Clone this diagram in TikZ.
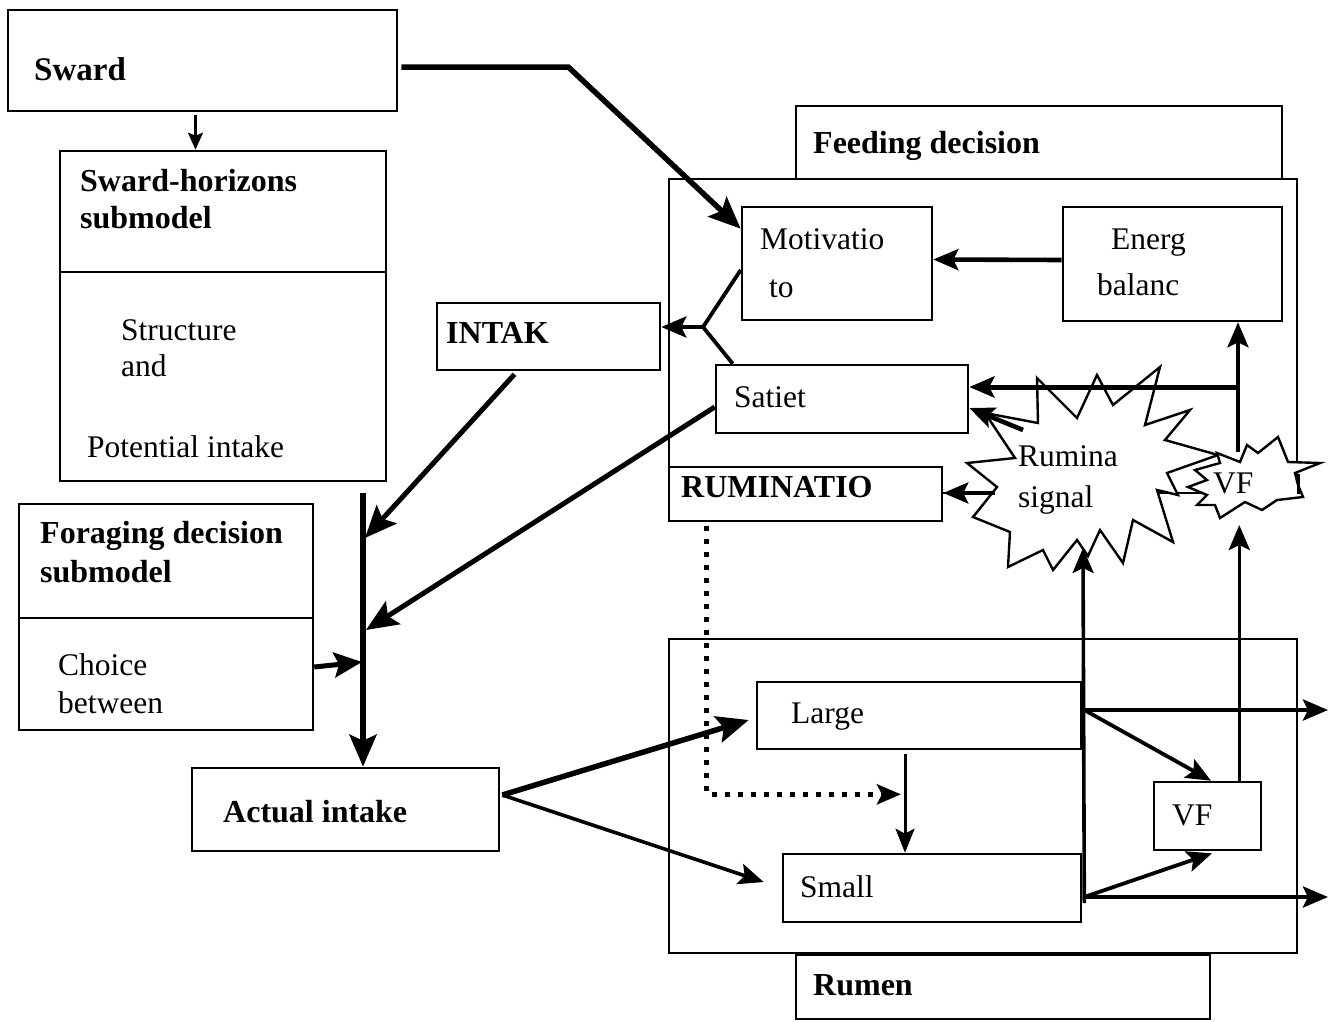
\documentclass[tikz,border=0pt]{standalone}
\usepackage{fontspec}
\setmainfont{Liberation Serif}
\usetikzlibrary{arrows.meta,fit,calc}
\begin{document}
\begin{tikzpicture}[x=1pt,y=-1pt,
 box/.style={draw,line width=2.6pt,fill=white,inner sep=0pt},
 txt/.style={inner sep=0pt,anchor=base west,font=\fontsize{31.5pt}{36pt}\selectfont},
 btxt/.style={inner sep=0pt,anchor=base west,font=\fontsize{32pt}{36pt}\selectfont\bfseries},
 bigarr/.style={line width=5.5pt,-{Stealth[length=32pt,width=27pt,inset=6pt]}},
 medarr/.style={line width=4pt,-{Stealth[length=25pt,width=21pt,inset=5pt]}},
 smallarr/.style={line width=2.4pt,-{Stealth[length=17pt,width=15pt,inset=3pt]}},
 plainline/.style={line width=3.8pt},
 dotline/.style={line width=5.5pt,dash pattern=on 5pt off 8pt},
 starshape/.style={draw,line width=2.4pt,fill=white,line join=miter}]
\useasboundingbox (0,0) rectangle (1334,1021);

% outer frames
\node[box,fit={(669,179) (1297,493)}] (feed) {};
\node[box,fit={(796,106) (1282,179)}] (feedlbl) {};
\node[box,fit={(669,639) (1297,953)}] (rumen) {};
\node[box,fit={(796,955) (1210,1019)}] (rumenlbl) {};

% boxes
\node[box,fit={(8,10) (397,111)}] (sward) {};
\node[box,fit={(60,151) (386,481)}] (horiz) {};
\draw[line width=2.2pt] ($(horiz.north west)+(0,122)$) -- ($(horiz.north east)+(0,122)$);
\node[box,fit={(742,207) (932,320)}] (mot) {};
\node[box,fit={(1063,207) (1282,321)}] (energ) {};
\node[box,fit={(437,303) (660,370)}] (intak) {};
\node[box,fit={(716,365) (968,433)}] (sat) {};
\node[box,fit={(669,467) (942,521)}] (rum) {};
\node[box,fit={(19,504) (313,730)}] (forag) {};
\draw[line width=2.2pt] ($(forag.north west)+(0,115)$) -- ($(forag.north east)+(0,115)$);
\node[box,fit={(192,768) (499,851)}] (actual) {};
\node[box,fit={(757,682) (1081,749)}] (large) {};
\node[box,fit={(783,854) (1081,922)}] (small) {};
\node[box,fit={(1154,782) (1261,850)}] (vf) {};

% stars
\draw[starshape] (1037,378) -- (1077,418) -- (1097,375) -- (1113,405) -- (1160,367)
 -- (1145,425) -- (1190,410) -- (1165,440) -- (1218,455) -- (1167,473) -- (1178,495)
 -- (1157,490) -- (1173,542) -- (1133,520) -- (1123,563) -- (1100,530) -- (1088,556)
 -- (1077,540) -- (1053,570) -- (1043,550) -- (1008,567) -- (1010,532) -- (973,517)
 -- (997,487) -- (967,463) -- (1015,458) -- (985,413) -- (1038,423) -- cycle;
\draw[starshape] (1217,453) -- (1240,462) -- (1247,445) -- (1258,453) -- (1278,437)
 -- (1288,462) -- (1320,463) -- (1295,473) -- (1298,485) -- (1303,497) -- (1277,500)
 -- (1262,510) -- (1245,502) -- (1220,518) -- (1215,505) -- (1197,505) -- (1207,495)
 -- (1188,487) -- (1207,480) -- (1195,470) -- (1220,463) -- cycle;
\draw[line width=2.6pt] ($(feed.south east)+(0,-20)$) -- (feed.south east);

% texts
\node[btxt,font=\fontsize{33pt}{36pt}\selectfont\bfseries] (t-sward) at (34,80) {Sward};
\node[btxt] (t-hor1) at (80,191) {Sward-horizons};
\node[btxt] (t-hor2) at (80,228) {submodel};
\node[txt] (t-hor3) at (121,340) {Structure};
\node[txt] (t-hor4) at (121,376) {and};
\node[txt] (t-hor5) at (87,457) {Potential intake};
\node[btxt] (t-feed) at (813,153) {Feeding decision};
\node[txt] (t-mot1) at (760,249) {Motivatio};
\node[txt] (t-mot2) at (769,297) {to};
\node[txt] (t-en1) at (1111,249) {Energ};
\node[txt] (t-en2) at (1097,295) {balanc};
\node[btxt] (t-intak) at (446,343) {INTAK};
\node[txt] (t-sat) at (734,407) {Satiet};
\node[btxt] (t-rum) at (681,497) {RUMINATIO};
\node[txt] (t-rs1) at (1018,466) {Rumina};
\node[txt] (t-rs2) at (1018,507) {signal};
\node[txt] (t-vfs) at (1213,493) {VF};
\node[btxt] (t-for1) at (40,543) {Foraging decision};
\node[btxt] (t-for2) at (40,582) {submodel};
\node[txt] (t-for3) at (58,675) {Choice};
\node[txt] (t-for4) at (58,713) {between};
\node[btxt] (t-act) at (223,822) {Actual intake};
\node[txt] (t-large) at (791,723) {Large};
\node[txt] (t-small) at (800,897) {Small};
\node[txt] (t-vf) at (1172,825) {VF};
\node[btxt] (t-rumen) at (813,995) {Rumen};

% coordinates for junctions / star attachment points
\coordinate (fork) at (703,327);
\coordinate (trunk) at (363,493);
\coordinate (rsbot) at (1083,548);
\coordinate (rssat) at (1023,430);
\coordinate (rsrum) at (995,493);
\coordinate (vfsbot) at (1238,525);
\coordinate (vfstop) at (1238,452);
\coordinate (jn) at (1238,387);
\coordinate (out) at (1328,0);

% connectors
\draw[smallarr] ([xshift=-7pt,yshift=-3pt]sward.south) coordinate (s1) -- (s1 |- horiz.north);
\draw[bigarr] ([xshift=3pt,yshift=-6.5pt]sward.east) -- ++(167,0) -- ([yshift=-23pt]mot.north west);
\draw[medarr,line width=4.6pt] ([yshift=4pt]energ.west) -- ([yshift=4pt]mot.east);
\draw[plainline] ([yshift=-6.5pt]mot.west) -- (fork) -- ([xshift=18pt]sat.north west);
\draw[medarr] (fork) -- (fork -| intak.east);
\draw[medarr] (vfstop) -- (vfstop |- energ.south);
\draw[medarr,line width=5pt] (jn) -- (jn -| sat.east);
\draw[medarr,line width=4.6pt] (rssat) -- ([yshift=-9pt]sat.east);
\draw[medarr] (rsrum) -- (rsrum -| rum.east);
\coordinate (ls) at ([xshift=-14pt,yshift=-4pt]large.south);
\draw[medarr,line width=3pt,-{Stealth[length=24pt,width=19pt,inset=5pt]}] (ls) -- (ls |- small.north);
\coordinate (lsmid) at ($(large.south)!0.43!(large.south |- small.north)$);
\draw[dotline,-{Stealth[length=24pt,width=20pt,inset=5pt]}] ([xshift=39pt,yshift=-4pt]rum.south west) coordinate (d0) -- (d0 |- lsmid) -- ([xshift=-18pt]lsmid);
\draw[bigarr] (trunk) -- (trunk |- actual.north);
\draw[bigarr,line width=5pt] ([xshift=-34pt,yshift=-3pt]intak.south) -- ($(trunk)+(2,45)$);
\draw[bigarr,line width=5pt] ([yshift=-8pt]sat.west) -- ($(trunk)+(3,137)$);
\draw[bigarr,line width=5pt,-{Stealth[length=28pt,width=25pt,inset=5pt]}] ([yshift=-50pt]forag.east) -- ($(trunk)+(-1,169)$);
\draw[bigarr] ([xshift=2pt,yshift=14.5pt]actual.east) coordinate (a1) -- ([xshift=-7pt,yshift=-4.5pt]large.west);
\draw[medarr,line width=3.6pt] (a1) -- ([xshift=-18pt,yshift=6pt]small.west);
\draw[medarr,line width=3.6pt] ([xshift=2pt,yshift=-15pt]small.east) -- (rsbot);
\draw[medarr,line width=4.4pt] ([xshift=2pt,yshift=5.5pt]large.east) coordinate (lo) -- (lo -| out);
\draw[medarr,line width=3.8pt] (lo) -- ([xshift=3.5pt]vf.north);
\draw[medarr,line width=4.4pt] ([xshift=2pt,yshift=-9pt]small.east) coordinate (so) -- (so -| out);
\draw[medarr,line width=3.8pt] (so) -- ([xshift=4.5pt,yshift=-2pt]vf.south);
\draw[medarr,line width=3.6pt] ([xshift=-23pt]vf.north east) coordinate (v1) -- (v1 |- vfsbot);
\end{tikzpicture}
\end{document}
